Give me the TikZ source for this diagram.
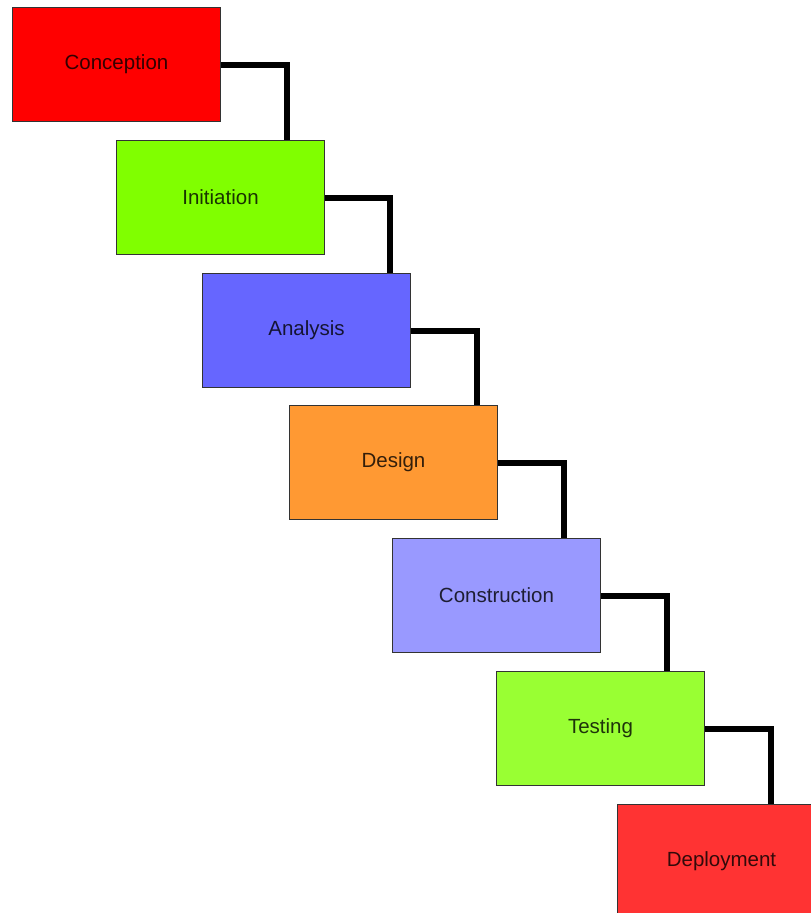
\documentclass[tikz,border=0pt]{standalone}
\usepackage{fontspec}
\setmainfont{Liberation Sans}
\begin{document}
\begin{tikzpicture}[x=1pt,y=-1pt,
  phase/.style={draw=black!80, line width=1pt, anchor=north west,
    minimum width=208pt, minimum height=114pt, inner sep=0pt,
    font=\fontsize{20.5}{24}\selectfont, text=black, text opacity=0.8},
  conn/.style={line width=6pt, black, line join=miter}]
\clip (0,0) rectangle (811,913);
\fill[white] (0,0) rectangle (811,913);
\definecolor{cRed}{HTML}{FF0000}
\definecolor{cLime}{HTML}{80FF00}
\definecolor{cBlue}{HTML}{6666FF}
\definecolor{cOrange}{HTML}{FF9933}
\definecolor{cLav}{HTML}{9999FF}
\definecolor{cGreen}{HTML}{99FF33}
\definecolor{cRose}{HTML}{FF3333}

% phase boxes, stepping down to the right
\node[phase, fill=cRed]    (conc)   at (12,7)    {Conception};
\node[phase, fill=cLime]   (init)   at (116,140) {Initiation};
\node[phase, fill=cBlue]   (anal)   at (202,273) {Analysis};
\node[phase, fill=cOrange] (desg)   at (289,405) {Design};
\node[phase, fill=cLav]    (cons)   at (392,538) {Construction};
\node[phase, fill=cGreen]  (test)   at (496,671) {Testing};
\node[phase, fill=cRose]   (depl)   at (617,804) {Deployment};

% elbow connectors between consecutive phases
\draw[conn] (conc.east) -| ([xshift=171pt]init.north west);
\draw[conn] (init.east) -| ([xshift=188pt]anal.north west);
\draw[conn] (anal.east) -| ([xshift=188pt]desg.north west);
\draw[conn] (desg.east) -| ([xshift=172pt]cons.north west);
\draw[conn] (cons.east) -| ([xshift=171pt]test.north west);
\draw[conn] (test.east) -| ([xshift=154pt]depl.north west);
\end{tikzpicture}
\end{document}
